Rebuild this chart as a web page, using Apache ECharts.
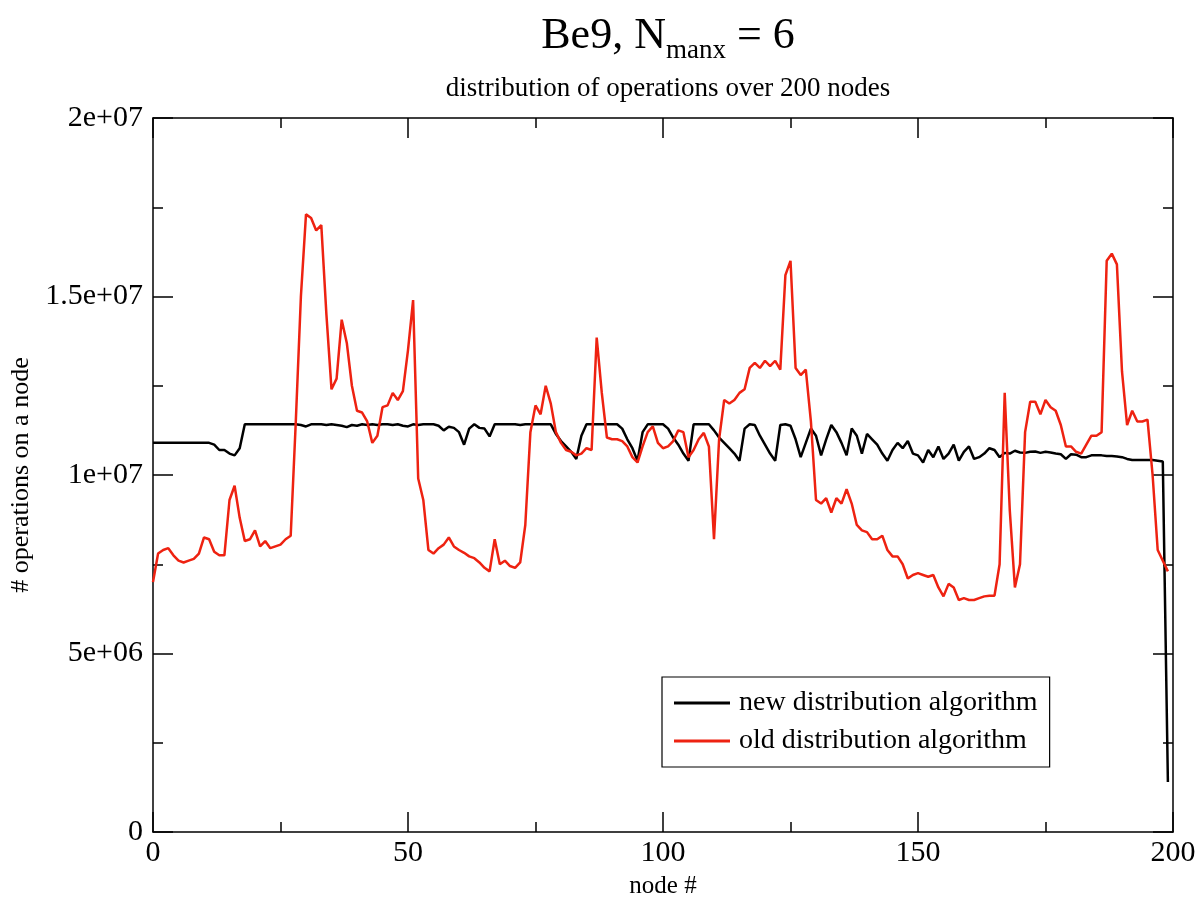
<!DOCTYPE html>
<html><head><meta charset="utf-8">
<script src="https://cdn.jsdelivr.net/npm/echarts@6/dist/echarts.min.js"></script>
<style>html,body{margin:0;padding:0;background:#fff}#c{width:1197px;height:899px}</style>
</head><body><div id="c"></div>
<script>
// values in millions of operations, node index = array position (0..199)
const SCALE = 1e6;
const newAlgo = [
 10.9, 10.9, 10.9, 10.9, 10.9, 10.9, 10.9, 10.9, 10.9, 10.9,
 10.9, 10.9, 10.85, 10.7, 10.7, 10.6, 10.55, 10.75, 11.42, 11.42,
 11.42, 11.42, 11.42, 11.42, 11.42, 11.42, 11.42, 11.42, 11.42, 11.4,
 11.36, 11.42, 11.42, 11.42, 11.4, 11.42, 11.4, 11.38, 11.34, 11.4,
 11.38, 11.42, 11.4, 11.42, 11.4, 11.42, 11.42, 11.4, 11.42, 11.38,
 11.36, 11.42, 11.4, 11.42, 11.42, 11.42, 11.38, 11.25, 11.35, 11.32,
 11.2, 10.85, 11.3, 11.42, 11.32, 11.3, 11.08, 11.42, 11.42, 11.42,
 11.42, 11.42, 11.4, 11.42, 11.42, 11.42, 11.42, 11.42, 11.42, 11.15,
 10.95, 10.8, 10.65, 10.45, 11.1, 11.42, 11.42, 11.42, 11.42, 11.42,
 11.42, 11.42, 11.3, 11.0, 10.75, 10.4, 11.2, 11.42, 11.42, 11.42,
 11.42, 11.3, 11.05, 10.85, 10.6, 10.4, 11.42, 11.42, 11.42, 11.42,
 11.25, 11.05, 10.9, 10.75, 10.6, 10.4, 11.3, 11.42, 11.4, 11.1,
 10.85, 10.6, 10.4, 11.4, 11.42, 11.38, 11.0, 10.5, 10.9, 11.3,
 11.1, 10.55, 11.0, 11.4, 11.2, 10.9, 10.55, 11.3, 11.1, 10.6,
 11.15, 11.0, 10.85, 10.6, 10.4, 10.7, 10.9, 10.75, 10.95, 10.6,
 10.55, 10.35, 10.7, 10.5, 10.8, 10.45, 10.6, 10.85, 10.4, 10.65,
 10.8, 10.45, 10.5, 10.6, 10.75, 10.7, 10.5, 10.62, 10.6, 10.68,
 10.63, 10.62, 10.65, 10.66, 10.62, 10.65, 10.63, 10.6, 10.58, 10.45,
 10.58, 10.57, 10.5, 10.5, 10.55, 10.55, 10.55, 10.53, 10.53, 10.52,
 10.5, 10.45, 10.42, 10.42, 10.42, 10.42, 10.42, 10.4, 10.38, 1.4
];
const oldAlgo = [
 7.0, 7.8, 7.9, 7.95, 7.75, 7.6, 7.55, 7.6, 7.65, 7.8,
 8.25, 8.2, 7.85, 7.75, 7.75, 9.3, 9.7, 8.8, 8.15, 8.2,
 8.45, 8.0, 8.15, 7.95, 8.0, 8.05, 8.2, 8.3, 11.5, 15.0,
 17.3, 17.2, 16.85, 17.0, 14.5, 12.4, 12.7, 14.35, 13.7, 12.5,
 11.8, 11.75, 11.5, 10.9, 11.1, 11.9, 11.95, 12.3, 12.1, 12.35,
 13.5, 14.9, 9.9, 9.3, 7.9, 7.8, 7.95, 8.05, 8.25, 8.0,
 7.9, 7.82, 7.72, 7.67, 7.55, 7.4, 7.3, 8.2, 7.5, 7.6,
 7.45, 7.4, 7.55, 8.6, 11.2, 11.95, 11.7, 12.5, 12.0, 11.2,
 10.9, 10.7, 10.65, 10.55, 10.6, 10.75, 10.7, 13.85, 12.3, 11.05,
 11.0, 11.0, 10.95, 10.8, 10.5, 10.35, 10.8, 11.2, 11.36, 10.9,
 10.75, 10.8, 10.95, 11.25, 11.2, 10.5, 10.7, 11.0, 11.18, 10.8,
 8.2, 11.0, 12.1, 12.0, 12.1, 12.3, 12.4, 13.0, 13.14, 13.0,
 13.2, 13.05, 13.2, 12.95, 15.6, 16.0, 13.0, 12.8, 12.95, 11.5,
 9.3, 9.2, 9.35, 8.95, 9.35, 9.2, 9.6, 9.2, 8.6, 8.45,
 8.4, 8.2, 8.2, 8.3, 7.9, 7.72, 7.72, 7.5, 7.1, 7.2,
 7.25, 7.2, 7.15, 7.2, 6.85, 6.6, 6.95, 6.85, 6.5, 6.55,
 6.5, 6.5, 6.55, 6.6, 6.62, 6.62, 7.5, 12.3, 9.0, 6.85,
 7.5, 11.2, 12.05, 12.05, 11.7, 12.1, 11.9, 11.8, 11.4, 10.8,
 10.8, 10.65, 10.6, 10.85, 11.1, 11.1, 11.2, 16.0, 16.2, 15.9,
 12.9, 11.4, 11.8, 11.5, 11.5, 11.55, 10.0, 7.9, 7.6, 7.3
];
const seriesNames = ['new distribution algorithm', 'old distribution algorithm'];
const xTickLabels = ['0', '50', '100', '150', '200'];
const yTickLabels = ['0', '5e+06', '1e+07', '1.5e+07', '2e+07'];
const titleMain = 'Be9, N', titleSub = 'manx', titleEnd = ' = 6';
const subtitleText = 'distribution of operations over 200 nodes';
const xName = 'node #', yName = '# operations on a node';

const FONT = '"Liberation Serif", "DejaVu Serif", serif';
const RED = '#ee2211';
const X_MAX = 200, X_STEP = 50, Y_MAX = 2e7, Y_STEP = 5e6;
const toPairs = arr => arr.map((v, i) => [i, v * SCALE]);

const chart = echarts.init(document.getElementById('c'));
const tickStyle = { color: '#000', width: 1.5 };
const baseX = {
  type: 'value', min: 0, max: X_MAX, interval: X_STEP,
  axisLine: { show: true, onZero: false, lineStyle: tickStyle },
  axisTick: { show: true, inside: true, length: 20, lineStyle: tickStyle },
  minorTick: { show: true, splitNumber: 2, length: 10, lineStyle: tickStyle },
  splitLine: { show: false }
};
const baseY = {
  type: 'value', min: 0, max: Y_MAX, interval: Y_STEP,
  axisLine: { show: true, onZero: false, lineStyle: tickStyle },
  axisTick: { show: true, inside: true, length: 20, lineStyle: tickStyle },
  minorTick: { show: true, splitNumber: 2, length: 10, lineStyle: tickStyle },
  splitLine: { show: false }
};
chart.setOption({
  animation: false,
  backgroundColor: '#fff',
  title: [
    {
      text: '{m|' + titleMain + '}{s|' + titleSub + '}{m|' + titleEnd + '}',
      left: 663, top: 9, textAlign: 'center',
      textStyle: {
        fontWeight: 'normal',
        rich: {
          m: { fontFamily: FONT, fontSize: 44, fontWeight: 'normal', color: '#000', lineHeight: 50, verticalAlign: 'top' },
          s: { fontFamily: FONT, fontSize: 27, fontWeight: 'normal', color: '#000', lineHeight: 22, padding: [36, 0, 0, 0], verticalAlign: 'bottom' }
        }
      }
    },
    {
      text: subtitleText, left: 663, top: 70, textAlign: 'center',
      textStyle: { fontFamily: FONT, fontSize: 27, fontWeight: 'normal', color: '#000' }
    }
  ],
  grid: { left: 153, right: 24, top: 118, bottom: 67, containLabel: false, outerBoundsMode: 'none' },
  legend: {
    orient: 'vertical', left: 662, top: 677,
    data: seriesNames, icon: 'rect',
    backgroundColor: '#fff', borderColor: '#000', borderWidth: 1.2,
    padding: [12, 12, 12, 12], itemGap: 10, itemWidth: 56, itemHeight: 3,
    textStyle: { fontFamily: FONT, fontSize: 28, color: '#000', padding: [0, 0, 0, 4] }
  },
  xAxis: [
    Object.assign({}, baseX, {
      position: 'bottom', name: xName, nameLocation: 'middle', nameGap: 42,
      nameTextStyle: { fontFamily: FONT, fontSize: 25, color: '#000' },
      axisLabel: { show: true, margin: 6, fontFamily: FONT, fontSize: 30, color: '#000',
        formatter: v => xTickLabels[Math.round(v / X_STEP)] }
    }),
    Object.assign({}, baseX, { position: 'top', axisLabel: { show: false } })
  ],
  yAxis: [
    Object.assign({}, baseY, {
      position: 'left', name: yName, nameLocation: 'middle', nameGap: 116,
      nameTextStyle: { fontFamily: FONT, fontSize: 26, color: '#000' },
      axisLabel: { show: true, margin: 10, fontFamily: FONT, fontSize: 30, color: '#000',
        formatter: v => yTickLabels[Math.round(v / Y_STEP)] }
    }),
    Object.assign({}, baseY, { position: 'right', axisLabel: { show: false } })
  ],
  series: [
    { name: seriesNames[0], type: 'line', data: toPairs(newAlgo), symbol: 'none',
      lineStyle: { color: '#000', width: 2.5 }, itemStyle: { color: '#000' }, z: 2 },
    { name: seriesNames[1], type: 'line', data: toPairs(oldAlgo), symbol: 'none',
      lineStyle: { color: RED, width: 2.5 }, itemStyle: { color: RED }, z: 3 }
  ]
});
</script></body></html>
